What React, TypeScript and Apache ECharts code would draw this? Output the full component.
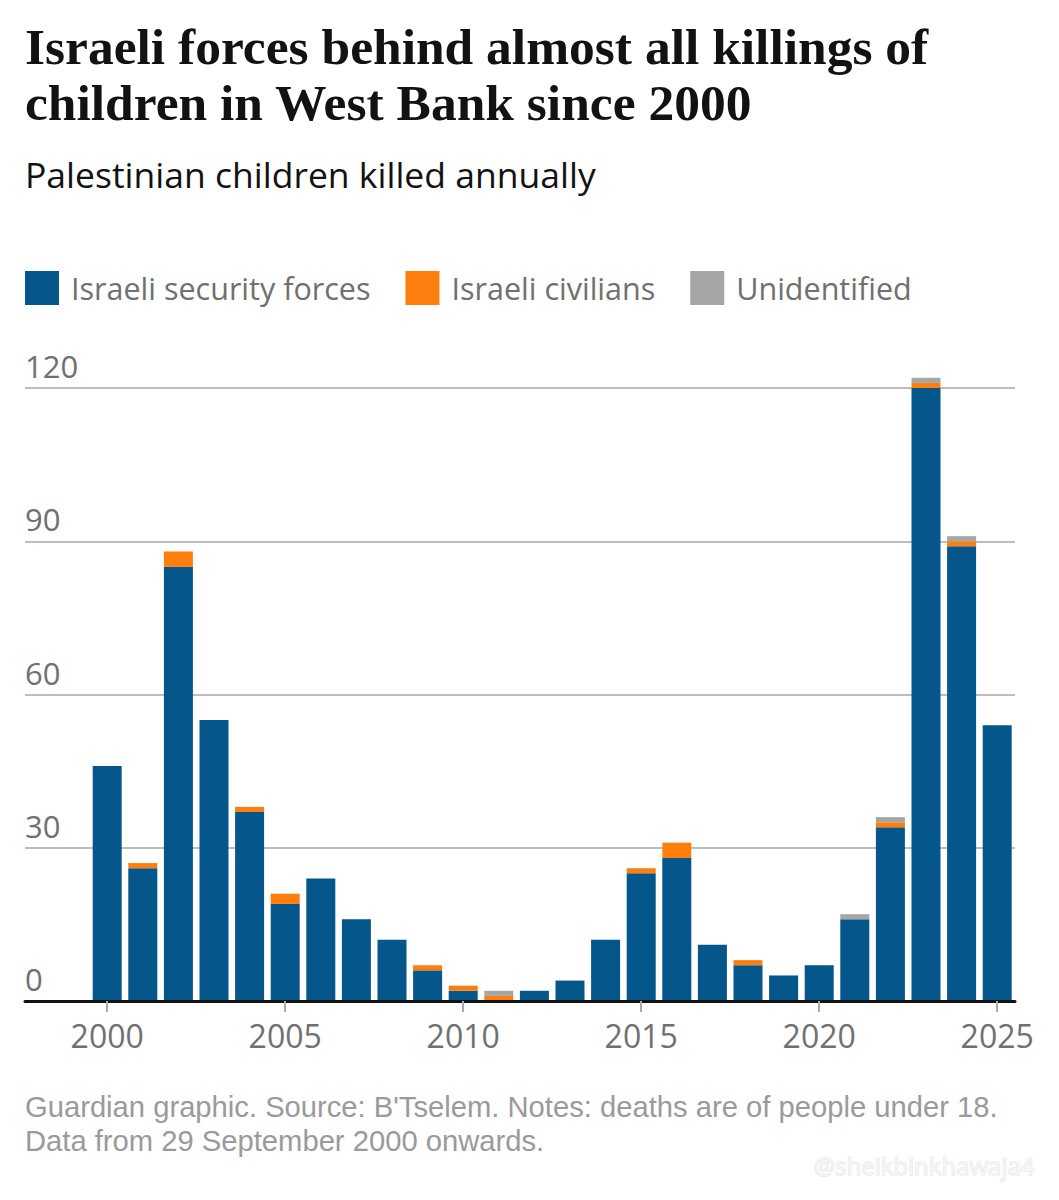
import React, { useEffect, useRef } from "react";
import * as echarts from "echarts";

// Data
const years = ["2000", "2001", "2002", "2003", "2004", "2005", "2006", "2007", "2008", "2009", "2010", "2011", "2012", "2013", "2014", "2015", "2016", "2017", "2018", "2019", "2020", "2021", "2022", "2023", "2024", "2025"];
const securityForces = [46, 26, 85, 55, 37, 19, 24, 16, 12, 6, 2, 0, 2, 4, 12, 25, 28, 11, 7, 5, 7, 16, 34, 120, 89, 54];
const civilians = [0, 1, 3, 0, 1, 2, 0, 0, 0, 1, 1, 1, 0, 0, 0, 1, 3, 0, 1, 0, 0, 0, 1, 1, 1, 0];
const unidentified = [0, 0, 0, 0, 0, 0, 0, 0, 0, 0, 0, 1, 0, 0, 0, 0, 0, 0, 0, 0, 0, 1, 1, 1, 1, 0];
const yearTicks = [2000, 2005, 2010, 2015, 2020, 2025];
const yTicks = { min: 0, max: 120, interval: 30 };
const seriesNames = ["Israeli security forces", "Israeli civilians", "Unidentified"];

const titleLines = ["Israeli forces behind almost all killings of", "children in West Bank since 2000"];
const subtitle = "Palestinian children killed annually";
const footerLines = [
  "Guardian graphic. Source: B'Tselem. Notes: deaths are of people under 18.",
  "Data from 29 September 2000 onwards.",
];
const watermark = "@sheikbinkhawaja4";

const BLUE = "#05568a";
const ORANGE = "#ff7f0e";
const GREY = "#a6a6a6";
const SANS = "'Open Sans', 'Noto Sans', sans-serif";
const FOOT = "'Liberation Sans', Arial, sans-serif";
const SERIF = "'Liberation Serif', serif";

// layout (pixels)
const W = 1059;
const TOP = 388;
const BOTTOM = 199;
const PLOT_LEFT = 25;
const PLOT_RIGHT = 44;
const STEP = 35.6; // width of one year band
const BAR_LEFT = W - PLOT_RIGHT - STEP * years.length; // first band's left edge

export default function App() {
  const ref = useRef<HTMLDivElement>(null);

  useEffect(() => {
    document.body.style.margin = "0";
    const chart = echarts.init(ref.current!, null, { renderer: "svg" });
    const mkSeries = (name: string, arr: number[], color: string) => ({
      name,
      type: "bar",
      stack: "total",
      xAxisIndex: 1,
      yAxisIndex: 1,
      data: arr,
      barWidth: 29,
      clip: false,
      itemStyle: { color },
      emphasis: { disabled: true },
    });

    // the year axis (ticks + labels) spans the full plot width, matching the category bands
    const firstYear = Number(years[0]);
    const axisMin = firstYear - 0.5 - (BAR_LEFT - PLOT_LEFT) / STEP;
    const axisMax = firstYear - 0.5 + years.length;

    chart.setOption({
      animation: false,
      backgroundColor: "#ffffff",
      textStyle: { fontFamily: SANS },
      grid: [
        { left: PLOT_LEFT, right: PLOT_RIGHT, top: TOP, bottom: BOTTOM, containLabel: false },
        { left: BAR_LEFT, right: PLOT_RIGHT, top: TOP, bottom: BOTTOM, containLabel: false },
      ],
      legend: {
        left: 25,
        top: 271,
        padding: 0,
        itemWidth: 34,
        itemHeight: 34,
        itemGap: 35,
        icon: "rect",
        selectedMode: false,
        data: seriesNames,
        textStyle: { fontSize: 30.5, color: "#707070", fontFamily: SANS, padding: [0, 0, 0, 7] },
      },
      xAxis: [
        {
          type: "value",
          gridIndex: 0,
          min: axisMin,
          max: axisMax,
          z: 5,
          splitLine: { show: false },
          axisLine: { show: true, onZero: false, lineStyle: { color: "#121212", width: 3 } },
          axisTick: { show: true, customValues: yearTicks, length: 11, lineStyle: { color: "#aaaaaa", width: 2 } },
          axisLabel: {
            customValues: yearTicks,
            formatter: (v: number) => String(v),
            fontSize: 32,
            color: "#707070",
            fontFamily: SANS,
            margin: 18,
          },
        },
        {
          type: "category",
          gridIndex: 1,
          data: years,
          show: false,
          boundaryGap: true,
        },
      ],
      yAxis: [
        {
          type: "value",
          gridIndex: 0,
          ...yTicks,
          axisLine: { show: false },
          axisTick: { show: false },
          splitLine: { show: true, lineStyle: { color: "#bdbdbd", width: 2 } },
          axisLabel: {
            inside: true,
            margin: 0,
            align: "left",
            verticalAlign: "bottom",
            lineHeight: 30,
            padding: [0, 0, 7, 0],
            fontSize: 31,
            color: "#707070",
            fontFamily: SANS,
          },
        },
        {
          type: "value",
          gridIndex: 1,
          ...yTicks,
          show: false,
          splitLine: { show: false },
        },
      ],
      series: [
        mkSeries(seriesNames[0], securityForces, BLUE),
        mkSeries(seriesNames[1], civilians, ORANGE),
        mkSeries(seriesNames[2], unidentified, GREY),
      ],
      graphic: [
        {
          type: "text", left: 25, top: 46.6 - 26, z: 10,
          style: { text: titleLines[0], font: `bold 51.5px ${SERIF}`, fill: "#121212" },
        },
        {
          type: "text", left: 25, top: 102.6 - 26, z: 10,
          style: { text: titleLines[1], font: `bold 51.5px ${SERIF}`, fill: "#121212" },
        },
        {
          type: "text", left: 25, top: 173.5 - 18, z: 10,
          style: { text: subtitle, font: `35.5px ${SANS}`, fill: "#121212" },
        },
        {
          type: "text", left: 25, top: 1107.3 - 15, z: 10,
          style: { text: footerLines[0], font: `29.2px ${FOOT}`, lineHeight: 30, fill: "#9a9a9a" },
        },
        {
          type: "text", left: 25, top: 1140.8 - 15, z: 10,
          style: { text: footerLines[1], font: `29.2px ${FOOT}`, lineHeight: 30, fill: "#9a9a9a" },
        },
        {
          type: "text", right: 24, top: 1153, z: 10,
          style: { text: watermark, font: `24px ${SANS}`, fill: "#f6f6f6", stroke: "#e2e2e2", lineWidth: 1 },
        },
      ],
    });
    return () => chart.dispose();
  }, []);

  return <div ref={ref} style={{ width: 1059, height: 1200, background: "#fff" }} />;
}
